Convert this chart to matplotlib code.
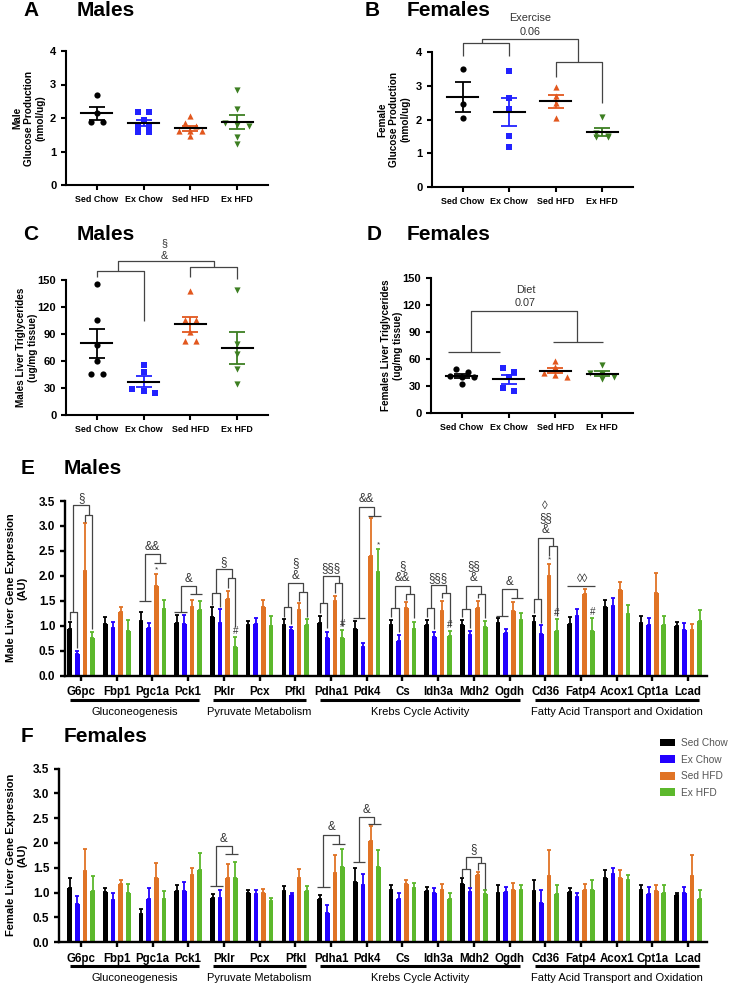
import matplotlib
matplotlib.use('Agg')
import matplotlib.pyplot as plt
import matplotlib.transforms as mtransforms
from matplotlib.patches import Patch
import numpy as np

plt.rcParams['font.family'] = ['Liberation Sans', 'DejaVu Sans']

groups = ['Sed Chow', 'Ex Chow', 'Sed HFD', 'Ex HFD']
dot_colors = ['#000000', '#2222ff', '#e2571e', '#3d7f22']
dot_markers = ['o', 's', '^', 'v']
bar_colors = ['#000000', '#2200ff', '#e07325', '#5cb82c']

# A: male glucose production (nmol/ug)
male_glc = [[2.7, 2.15, 1.87, 1.87],
            [2.19, 2.19, 1.94, 1.74, 1.74, 1.59, 1.59],
            [2.05, 1.85, 1.75, 1.6, 1.6, 1.6, 1.45],
            [2.85, 2.26, 1.86, 1.8, 1.76, 1.44, 1.22]]
# B: female glucose production (nmol/ug)
female_glc = [[3.5, 2.45, 2.05],
              [3.45, 2.65, 2.32, 1.5, 1.18],
              [2.95, 2.7, 2.48, 2.05],
              [2.08, 1.6, 1.5, 1.48, 1.48]]
# C: male liver triglycerides (ug/mg tissue)
male_tg = [[145, 105, 78, 60, 45, 45],
           [55, 48, 29, 27, 25],
           [138, 105, 105, 92, 82, 82],
           [139, 79, 68, 51, 35]]
# D: female liver triglycerides (ug/mg tissue)
female_tg = [[49, 46, 41, 40, 40, 32],
             [50, 46, 40, 28, 24],
             [58, 51, 45, 42, 40],
             [53, 45, 43, 40, 38]]

genes = ['G6pc', 'Fbp1', 'Pgc1a', 'Pck1', 'Pklr', 'Pcx', 'Pfkl', 'Pdha1', 'Pdk4',
         'Cs', 'Idh3a', 'Mdh2', 'Ogdh', 'Cd36', 'Fatp4', 'Acox1', 'Cpt1a', 'Lcad']
pathways = [('Gluconeogenesis', 0, 3), ('Pyruvate Metabolism', 4, 6),
            ('Krebs Cycle Activity', 7, 12), ('Fatty Acid Transport and Oxidation', 13, 17)]

# E: male liver gene expression (AU), mean and SEM per group
male_mean = [
    [0.93, 1.03, 1.09, 1.05, 1.18, 1.02, 1.02, 1.05, 0.93, 1.01, 1.02, 1.01, 1.05, 1.07, 1.03, 1.37, 1.05, 1.00],
    [0.43, 0.95, 0.95, 1.03, 1.05, 1.03, 0.91, 0.75, 0.57, 0.70, 0.78, 0.81, 0.85, 0.83, 1.20, 1.39, 1.01, 0.92],
    [2.10, 1.27, 1.80, 1.37, 1.53, 1.37, 1.32, 1.50, 2.39, 1.35, 1.30, 1.35, 1.30, 1.99, 1.63, 1.71, 1.65, 0.92],
    [0.75, 0.90, 1.33, 1.32, 0.57, 1.00, 1.02, 0.75, 2.07, 0.93, 0.80, 0.97, 1.11, 0.90, 0.90, 1.23, 1.01, 1.10]]
male_sem = [
    [0.15, 0.14, 0.19, 0.16, 0.20, 0.08, 0.11, 0.15, 0.17, 0.10, 0.10, 0.11, 0.10, 0.13, 0.15, 0.15, 0.15, 0.07],
    [0.07, 0.13, 0.10, 0.19, 0.28, 0.12, 0.07, 0.12, 0.08, 0.11, 0.10, 0.09, 0.08, 0.19, 0.13, 0.16, 0.14, 0.13],
    [0.95, 0.10, 0.23, 0.15, 0.17, 0.15, 0.13, 0.10, 0.76, 0.12, 0.20, 0.15, 0.17, 0.24, 0.10, 0.16, 0.40, 0.11],
    [0.13, 0.21, 0.19, 0.18, 0.20, 0.20, 0.11, 0.17, 0.46, 0.14, 0.10, 0.13, 0.14, 0.23, 0.25, 0.19, 0.19, 0.21]]

# F: female liver gene expression (AU)
female_mean = [
    [1.10, 1.01, 0.56, 1.03, 0.89, 1.00, 1.03, 0.88, 1.21, 1.05, 1.03, 1.17, 1.00, 1.03, 1.02, 1.30, 1.05, 0.95],
    [0.78, 0.86, 0.87, 1.03, 0.90, 0.97, 0.95, 0.59, 1.15, 0.87, 1.00, 1.02, 1.02, 0.80, 0.92, 1.38, 0.98, 1.00],
    [1.43, 1.18, 1.29, 1.35, 1.29, 0.99, 1.30, 1.39, 2.05, 1.18, 1.05, 1.35, 1.05, 1.33, 1.05, 1.30, 1.03, 1.33],
    [1.03, 1.00, 0.88, 1.46, 1.29, 0.83, 1.03, 1.51, 1.52, 1.10, 0.88, 0.97, 1.05, 0.97, 1.05, 1.25, 1.00, 0.88]]
female_sem = [
    [0.20, 0.09, 0.12, 0.13, 0.08, 0.06, 0.10, 0.08, 0.28, 0.10, 0.09, 0.12, 0.15, 0.22, 0.08, 0.15, 0.10, 0.05],
    [0.15, 0.13, 0.22, 0.18, 0.15, 0.08, 0.04, 0.17, 0.23, 0.13, 0.10, 0.08, 0.10, 0.25, 0.08, 0.12, 0.14, 0.12],
    [0.45, 0.08, 0.30, 0.14, 0.28, 0.09, 0.18, 0.37, 0.30, 0.07, 0.12, 0.07, 0.15, 0.52, 0.13, 0.15, 0.12, 0.42],
    [0.30, 0.17, 0.15, 0.33, 0.32, 0.06, 0.10, 0.37, 0.33, 0.10, 0.12, 0.08, 0.10, 0.18, 0.20, 0.10, 0.15, 0.17]]

# significance brackets: gene, chow y, chow legs, hfd y, hfd legs, top y, label
male_brackets = [
    (0, 1.27, (1.12, 0.55), 3.22, (3.08, 0.93), 3.41, '§'),
    (2, 1.49, None, 2.26, None, 2.43, '&&'),
    (3, 1.27, None, 1.63, None, 1.79, '&'),
    (4, 1.66, (1.42, 1.38), 1.95, (1.75, 0.98), 2.13, '§'),
    (6, 1.38, (1.18, 1.03), 1.68, (1.50, 1.18), 1.85, '§\n&'),
    (7, 1.45, (1.25, 0.95), 1.85, (1.65, 1.00), 2.00, '§§§'),
    (8, 1.15, None, 3.20, None, 3.38, '&&'),
    (9, 1.35, (1.17, 0.87), 1.63, (1.52, 1.15), 1.80, '§\n&&'),
    (10, 1.35, (1.17, 0.93), 1.65, (1.55, 1.00), 1.81, '§§§'),
    (11, 1.33, (1.17, 0.95), 1.63, (1.55, 1.15), 1.80, '§§\n&'),
    (12, 1.20, None, 1.55, None, 1.73, '&'),
    (13, 1.53, (1.25, 1.05), 2.59, (2.40, 1.20), 2.76, '◊\n§§\n&'),
]
male_marks = [(2, 2, '*'), (8, 3, '*'), (13, 2, '*'),
              (4, 3, '#'), (7, 3, '#'), (10, 3, '#'), (13, 3, '#'), (14, 3, '#')]
female_brackets = [
    (4, 1.13, None, 1.77, None, 1.93, '&'),
    (7, 1.11, None, 1.98, None, 2.17, '&'),
    (8, 1.61, None, 2.38, None, 2.52, '&'),
    (11, 1.47, (1.32, 1.12), 1.60, (1.45, 1.08), 1.72, '§'),
]

fig = plt.figure(figsize=(7.31, 9.86), dpi=100)

BR = '#444444'


def swarm(vals, thr, step=0.25):
    order = np.argsort(vals)[::-1]
    xs = np.zeros(len(vals))
    rows = []
    for k in order:
        if rows and abs(vals[rows[-1][0]] - vals[k]) < thr:
            rows[-1].append(k)
        else:
            rows.append([k])
    for r in rows:
        n = len(r)
        for j, k in enumerate(r):
            xs[k] = (j - (n - 1) / 2) * step
    return xs


def style_axes(ax, lw=1.5):
    for s in ['top', 'right']:
        ax.spines[s].set_visible(False)
    for s in ['left', 'bottom']:
        ax.spines[s].set_linewidth(lw)
    ax.tick_params(width=lw, length=3.5)


def dot_panel(rect, data, ymax, yticks, thr, ylabel, lab_x):
    ax = fig.add_axes(rect)
    for i, vals in enumerate(data):
        vals = np.array(vals, dtype=float)
        xs = swarm(vals, thr)
        ax.scatter(i + xs, vals, marker=dot_markers[i], color=dot_colors[i], s=20,
                   zorder=3, linewidths=0)
        m = vals.mean()
        sem = vals.std(ddof=1) / np.sqrt(len(vals))
        ax.errorbar(i, m, yerr=sem, color=dot_colors[i], capsize=5.5, elinewidth=1.3,
                    capthick=1.3, zorder=4)
        ax.plot([i - 0.33, i + 0.33], [m, m], color='black', lw=1.5, zorder=5)
    ax.set_xlim(-0.66, 3.66)
    ax.set_ylim(0, ymax)
    ax.set_yticks(yticks)
    ax.set_xticks(range(4))
    ax.set_xticklabels(groups, fontsize=6.4, fontweight='bold')
    ax.tick_params(axis='y', labelsize=8)
    for t in ax.get_yticklabels():
        t.set_fontweight('bold')
    style_axes(ax)
    fig.text(lab_x, rect[1] + rect[3] * 0.5, ylabel, rotation=90, ha='center', va='center',
             fontsize=7.2, fontweight='bold', multialignment='center')
    return ax


def seg(ax, xs, ys):
    ax.plot(xs, ys, color=BR, lw=0.9, clip_on=False, solid_capstyle='butt')


def note(ax, x, y, s):
    ax.text(x, y, s, ha='center', va='center', fontsize=7.8, color='#333333', clip_on=False)


# panel titles
for letter, word, lx, wx, y in [('A', 'Males', 23, 77, 11), ('B', 'Females', 365, 407, 11),
                               ('C', 'Males', 23, 77, 234), ('D', 'Females', 367, 407, 234),
                               ('E', 'Males', 21, 64, 468), ('F', 'Females', 21, 64, 737)]:
    fig.text(lx / 731, 1 - y / 986, letter, fontsize=15, fontweight='bold', va='center')
    fig.text(wx / 731, 1 - y / 986, word, fontsize=15, fontweight='bold', va='center')

axA = dot_panel([66 / 731, 1 - 185 / 986, 202 / 731, 134 / 986], male_glc, 4, range(5), 0.12,
                'Male\nGlucose Production\n(nmol/ug)', 29 / 731)
axB = dot_panel([432 / 731, 1 - 187 / 986, 201 / 731, 135 / 986], female_glc, 4, range(5), 0.12,
                'Female\nGlucose Production\n(nmol/ug)', 394 / 731)
axC = dot_panel([66 / 731, 1 - 415 / 986, 202 / 731, 135 / 986], male_tg, 150, range(0, 151, 30), 6,
                'Males Liver Triglycerides\n(ug/mg tissue)', 27 / 731)
axD = dot_panel([431 / 731, 1 - 413 / 986, 202 / 731, 135 / 986], female_tg, 150, range(0, 151, 30), 6,
                'Females Liver Triglycerides\n(ug/mg tissue)', 392 / 731)

# B brackets
seg(axB, [0, 0, 1, 1], [3.88, 4.26, 4.26, 3.88])
seg(axB, [2, 2, 3, 3], [3.27, 3.69, 3.69, 2.48])
seg(axB, [0.42, 0.42, 2.47, 2.47], [4.26, 4.4, 4.4, 3.69])
note(axB, 1.45, 5.0, 'Exercise')
note(axB, 1.45, 4.6, '0.06')
# C brackets
seg(axC, [0, 0, 1, 1], [153, 160, 160, 104])
seg(axC, [2, 2, 3, 3], [153, 164, 164, 151])
seg(axC, [0.45, 0.45, 2.5, 2.5], [160, 171, 171, 164])
note(axC, 1.45, 191, '§')
note(axC, 1.45, 177, '&')
# D brackets
seg(axD, [-0.3, 0.81], [67.3, 67.3])
seg(axD, [1.94, 3.02], [78.4, 78.4])
seg(axD, [0.2, 0.2, 2.47, 2.47], [67.3, 113.7, 113.7, 78.4])
note(axD, 1.36, 137, 'Diet')
note(axD, 1.36, 122, '0.07')

offs = [-0.32, -0.107, 0.107, 0.32]


def bar_panel(rect, means, sems, brackets, ylabel, xleft, lab_y):
    ax = fig.add_axes(rect)
    x = np.arange(len(genes))
    for g in range(4):
        ax.bar(x + offs[g], means[g], width=0.13, color=bar_colors[g], zorder=2)
        ax.errorbar(x + offs[g], means[g], yerr=[np.zeros(len(genes)), sems[g]], fmt='none',
                    ecolor=bar_colors[g], elinewidth=1.3, capsize=1.6, capthick=1.3, zorder=2)
    ax.set_xlim(xleft, 17.53)
    ax.set_ylim(0, 3.5)
    ax.set_yticks(np.arange(0, 3.51, 0.5))
    ax.set_yticklabels([f'{v:.1f}' for v in np.arange(0, 3.51, 0.5)], fontsize=8.5,
                       fontweight='bold')
    ax.set_xticks(x)
    ax.set_xticklabels(genes, fontsize=8.3, fontweight='bold')
    style_axes(ax, 1.7)
    ax.tick_params(axis='x', pad=4)
    fig.text(17 / 731, lab_y, ylabel, rotation=90, ha='center', va='center', fontsize=8,
             fontweight='bold', multialignment='center')
    for gi, yc, lc, yh, lh, yt, lab in brackets:
        x0, x1, x2, x3 = gi + np.array(offs)
        if lc is None:
            seg(ax, [x0 - 0.07, x1 + 0.07], [yc, yc])
        else:
            seg(ax, [x0, x0, x1, x1], [lc[0], yc, yc, lc[1]])
        if lh is None:
            seg(ax, [x2 - 0.07, x3 + 0.07], [yh, yh])
        else:
            seg(ax, [x2, x2, x3, x3], [lh[0], yh, yh, lh[1]])
        mc, mh = (x0 + x1) / 2, (x2 + x3) / 2
        seg(ax, [mc, mc, mh, mh], [yc, yt, yt, yh])
        ax.text(gi, yt + 0.03, lab, ha='center', va='bottom', fontsize=8.3, linespacing=1.05,
                color='#333333', clip_on=False)
    trans = mtransforms.blended_transform_factory(ax.transData, ax.transAxes)
    return ax, trans


axE, tE = bar_panel([65 / 731, 1 - 675.7 / 986, 642 / 731, 174.7 / 986], male_mean, male_sem,
                    male_brackets, 'Male Liver Gene Expression\n(AU)', -0.45, 1 - 588 / 986)
for gi, g, s in male_marks:
    top = male_mean[g][gi] + male_sem[g][gi]
    axE.text(gi + offs[g], top + 0.02, s, ha='center', va='bottom', fontsize=7 if s == '#' else 6,
             color='#333333')
# Fatp4 line
fx = 14 + np.array(offs)
seg(axE, [fx[0] - 0.06, fx[3] + 0.06], [1.79, 1.79])
axE.text(14.05, 1.82, '◊◊', ha='center', va='bottom', fontsize=8.3, color='#333333')

axF, tF = bar_panel([59 / 731, 1 - 942.3 / 986, 648 / 731, 173.8 / 986], female_mean, female_sem,
                    female_brackets, 'Female Liver Gene Expression\n(AU)', -0.62, 1 - 855 / 986)

for ax, tr, h in [(axE, tE, 174.7), (axF, tF, 173.8)]:
    for name, a, b in pathways:
        ax.plot([a - 0.3, b + 0.3], [-24 / h, -24 / h], color='black', lw=2.2, transform=tr,
                clip_on=False, solid_capstyle='butt')
        ax.text((a + b) / 2, -36 / h, name, ha='center', va='center', fontsize=8, transform=tr)

handles = [Patch(facecolor=c, edgecolor='none') for c in bar_colors]
leg = fig.legend(handles, groups, loc='upper left', bbox_to_anchor=(660 / 731, 1 - 738 / 986),
                 frameon=False, fontsize=7.3, handlelength=1.5, handleheight=0.8,
                 labelspacing=0.65, handletextpad=0.6, borderpad=0, borderaxespad=0)
for t in leg.get_texts():
    t.set_color('#555555')

fig.savefig('out.png', dpi=100)
